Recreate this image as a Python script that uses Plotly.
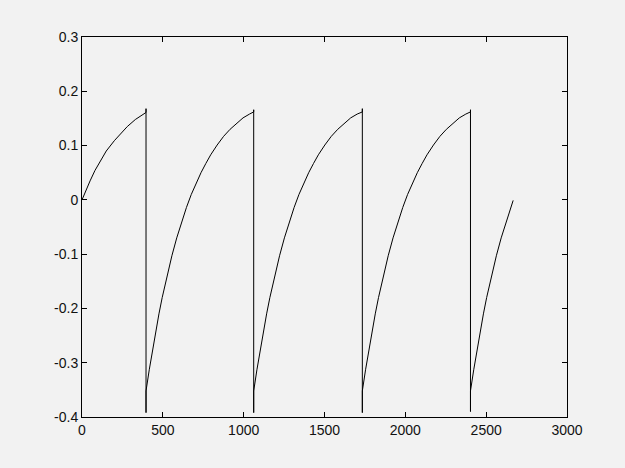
import plotly.graph_objects as go

# ---- data ----
# first (partial) charging segment, starting at 0
seg0_x = [0, 20, 50, 80, 111, 150, 200, 235, 280, 330, 370, 396]
seg0_y = [0.0, 0.015, 0.035, 0.054, 0.071, 0.090, 0.109, 0.121, 0.135, 0.148, 0.156, 0.161]

# reset instants (vertical drops)
drop_x = [396, 1062, 1734, 2403]
drop_top = [0.168, 0.166, 0.168, 0.166]
drop_bottom = [-0.392, -0.392, -0.392, -0.390]

# one full charging cycle after a reset (offset from the drop, value)
cycle_t = [0, 20, 40, 60, 80, 100, 130, 160, 190, 220, 250, 280, 310, 340, 370,
           400, 440, 480, 520, 560, 600, 640, 668]
cycle_y = [-0.352, -0.313, -0.276, -0.242, -0.210, -0.180, -0.140, -0.103, -0.070,
           -0.041, -0.014, 0.010, 0.031, 0.050, 0.067, 0.083, 0.101, 0.117, 0.130,
           0.141, 0.151, 0.158, 0.162]

# last (partial) segment after the final drop
last_t = [0, 20, 40, 60, 80, 100, 130, 160, 190, 220, 250, 264]
last_y = [-0.352, -0.313, -0.276, -0.242, -0.210, -0.180, -0.140, -0.103, -0.070,
          -0.041, -0.014, -0.001]

x_ticks = [0, 500, 1000, 1500, 2000, 2500, 3000]
x_labels = ["0", "500", "1000", "1500", "2000", "2500", "3000"]
y_ticks = [-0.4, -0.3, -0.2, -0.1, 0, 0.1, 0.2, 0.3]
y_labels = ["-0.4", "-0.3", "-0.2", "-0.1", "0", "0.1", "0.2", "0.3"]

# ---- assemble the polyline ----
xs = list(seg0_x)
ys = list(seg0_y)
for i, d in enumerate(drop_x):
    xs += [d, d, d]
    ys += [drop_top[i], drop_bottom[i], cycle_y[0]]
    if i < len(drop_x) - 1:
        ts, vs = cycle_t[1:-1], cycle_y[1:-1]
        nxt = drop_x[i + 1]
        xs += [d + t for t in ts] + [nxt]
        ys += vs + [cycle_y[-1]]
    else:
        xs += [d + t for t in last_t[1:]]
        ys += last_y[1:]

fig = go.Figure(go.Scatter(x=xs, y=ys, mode="lines",
                           line=dict(color="black", width=1), showlegend=False))

axis_common = dict(showgrid=False, zeroline=False, showline=True, linecolor="black",
                   linewidth=1, mirror="allticks", ticks="inside", ticklen=5,
                   tickcolor="black", tickfont=dict(family="Liberation Sans", size=14,
                                                    color="#111111"))
fig.update_xaxes(range=[0, 3000], tickvals=x_ticks, ticktext=x_labels, **axis_common)
fig.update_yaxes(range=[-0.4, 0.3], tickvals=y_ticks, ticktext=y_labels, **axis_common)

fig.update_layout(width=625, height=468,
                  margin=dict(l=74, r=66, t=29, b=59),
                  paper_bgcolor="#f2f2f2", plot_bgcolor="#f2f2f2")

fig.write_html("out.html",
               post_script="document.body.style.background='#f2f2f2';"
                           "document.documentElement.style.background='#f2f2f2';")
